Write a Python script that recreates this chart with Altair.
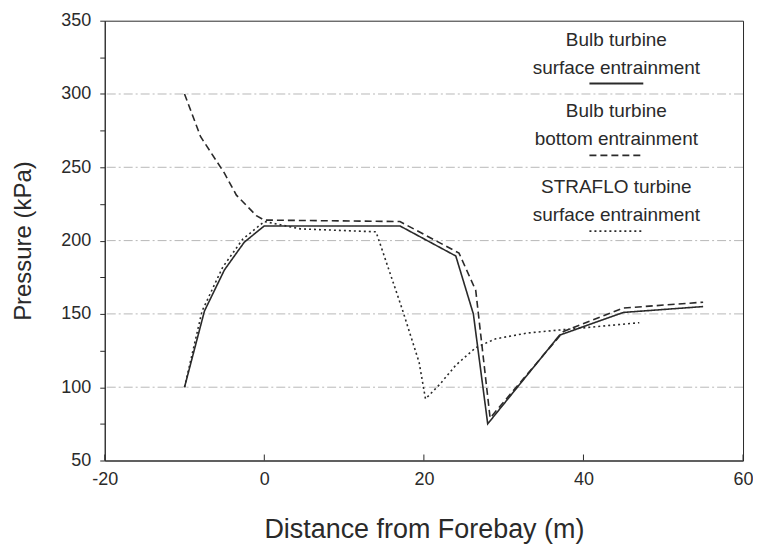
import altair as alt
import pandas as pd

# ---- data ----
x_surface = [-10, -7.5, -5, -2.5, 0, 17, 24, 26.2, 28, 37, 45, 55]
y_surface = [100, 152, 180, 199, 210, 210, 189.5, 150, 75, 135.5, 151, 155]

x_bottom = [-10, -8, -5, -3.5, -1, 0, 17, 24.4, 26.5, 28.3, 37.5, 45, 55]
y_bottom = [300, 271, 246, 231, 217, 214, 213, 191.5, 166, 79, 138, 154, 158]

x_straflo = [-10, -7.8, -5.2, -2.7, 0, 4.5, 14, 17.3, 19.4, 20.2, 22, 24, 26.5, 29, 33, 37, 47]
y_straflo = [100, 152, 182, 201, 213, 208, 206, 153, 117, 92, 102, 115, 127, 133, 137, 139, 144]

series_names = ["Bulb surface", "Bulb bottom", "STRAFLO surface"]
legend_lines = [
    ["Bulb turbine", "surface entrainment"],
    ["Bulb turbine", "bottom entrainment"],
    ["STRAFLO turbine", "surface entrainment"],
]
x_ticks = [-20, 0, 20, 40, 60]
y_ticks = [50, 75, 100, 125, 150, 175, 200, 225, 250, 275, 300, 325, 350]
grid_values = [100, 150, 200, 250, 300]

rows = []
for name, xs, ys in zip(series_names, [x_surface, x_bottom, x_straflo],
                        [y_surface, y_bottom, y_straflo]):
    for i, (xv, yv) in enumerate(zip(xs, ys)):
        rows.append({"series": name, "x": xv, "y": yv, "i": i})
df = pd.DataFrame(rows)

W, H = 640, 441
INK = "#2a2a2a"
FONT = "Liberation Sans"
dashes = [[1, 0], [7, 4], [2, 3]]

xscale = alt.Scale(domain=[-20, 60], nice=False, zero=False)
yscale = alt.Scale(domain=[50, 350], nice=False, zero=False)

xaxis = alt.Axis(values=x_ticks, title="Distance from Forebay (m)",
                 labelExpr="toString(datum.value)", labelFlush=False,
                 tickSize=0, labelPadding=10, labelFontSize=18,
                 titleFontSize=27, titleFontWeight="normal",
                 titlePadding=28, grid=False, domainColor=INK,
                 labelColor=INK, titleColor=INK, labelFont=FONT,
                 titleFont=FONT)
yaxis = alt.Axis(values=y_ticks, title="Pressure (kPa)",
                 labelExpr="datum.value % 50 == 0 ? datum.label : ''",
                 labelFlush=False,
                 tickSize=5, labelPadding=9, labelFontSize=18,
                 titleFontSize=24, titleFontWeight="normal",
                 titlePadding=25, grid=False, domainColor=INK,
                 tickColor=INK, labelColor=INK, titleColor=INK,
                 labelFont=FONT, titleFont=FONT)

grid = alt.Chart(pd.DataFrame({"g": grid_values})).mark_rule(
    color="#b8b8b8", strokeDash=[9, 3, 2, 3], strokeWidth=1
).encode(y=alt.Y("g:Q", scale=yscale, axis=yaxis))

lines = alt.Chart(df).mark_line(color=INK, strokeWidth=1.6).encode(
    x=alt.X("x:Q", scale=xscale, axis=xaxis),
    y=alt.Y("y:Q", scale=yscale, axis=yaxis),
    strokeDash=alt.StrokeDash("series:N",
                              scale=alt.Scale(domain=series_names, range=dashes),
                              legend=None),
    order="i:Q",
    detail="series:N",
)

xtick_marks = alt.Chart(pd.DataFrame({"t": x_ticks})).mark_rule(
    color=INK, strokeWidth=1
).encode(x=alt.X("t:Q", scale=xscale, axis=xaxis),
         y=alt.value(H), y2=alt.value(H - 6))

# legend (manual, centered text with sample line below)
text_x = 513
row_y = [19, 91, 167]
line_gap = 28
sample_off = 44
legend_layers = []
for k, pair in enumerate(legend_lines):
    for j, t in enumerate(pair):
        legend_layers.append(
            alt.Chart(pd.DataFrame({"t": [t]})).mark_text(
                font=FONT, fontSize=19, color=INK, align="center",
                baseline="middle"
            ).encode(text="t:N", x=alt.value(text_x),
                     y=alt.value(row_y[k] + j * line_gap))
        )
    legend_layers.append(
        alt.Chart(pd.DataFrame({"s": [series_names[k]]})).mark_rule(
            color=INK, strokeWidth=1.8, strokeDash=dashes[k]
        ).encode(x=alt.value(text_x - 27), x2=alt.value(text_x + 27),
                 y=alt.value(row_y[k] + sample_off))
    )

chart = alt.layer(grid, lines, xtick_marks, *legend_layers).properties(
    width=W, height=H,
    autosize=alt.AutoSizeParams(type="none"),
    padding={"left": 97, "top": 12, "right": 10, "bottom": 86},
    background="white",
).configure_view(stroke=INK, strokeWidth=1)

chart.save("out.html", embed_options={"renderer": "svg", "actions": False})
